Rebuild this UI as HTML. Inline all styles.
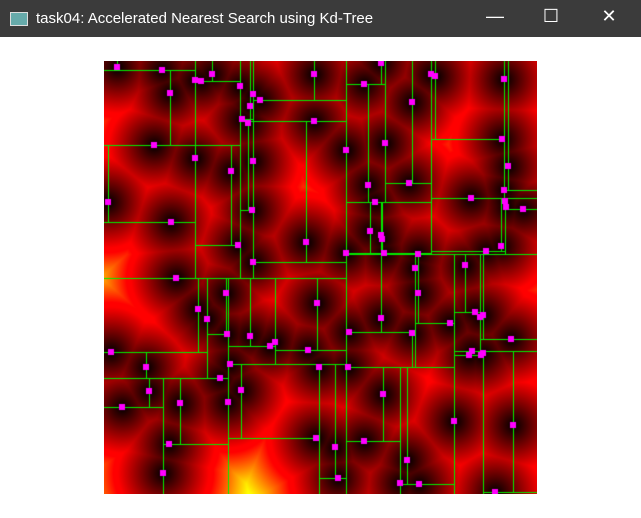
<!DOCTYPE html>
<html><head><meta charset="utf-8"><style>
body{margin:0;width:641px;height:518px;background:#fff;position:relative;overflow:hidden;font-family:"Liberation Sans",sans-serif}
#bar{position:absolute;left:0;top:0;width:641px;height:37px;background:#3b3b3b;color:#fff}
#title{position:absolute;left:36px;top:10px;font-size:15px}
#icon{position:absolute;left:10px;top:12px;width:16px;height:12px;border:1px solid #ddd;background:#6aa}
.btn{position:absolute;top:6px;color:#fff;font-size:18px;width:30px;text-align:center}
#cv{position:absolute;left:104px;top:61px}
</style></head><body>
<div id="bar">
<div id="icon"></div>
<div id="title">task04: Accelerated Nearest Search using Kd-Tree</div>
<div class="btn" style="left:480px">—</div>
<div class="btn" style="left:536px">☐</div>
<div class="btn" style="left:594px">✕</div>
</div>
<canvas id="cv" width="433" height="433"></canvas>
<script>
const pointsX=[117,162,212,195,201,314,170,240,253,260,250,242,248,314,154,195,253,231,108,252,171,238,306,253,176,381,431,435,504,364,412,346,385,502,508,368,409,504,471,375,505,506,523,370,381,382,501,346,384,418,486,415,465,226,317,198,207,111,227,250,275,270,308,146,230,319,220,149,241,122,180,228,169,316,163,418,381,475,480,483,349,412,450,511,472,469,481,483,348,383,454,513,364,335,407,338,400,419,495];
const pointsY=[67,70,74,80,81,74,93,86,94,100,106,119,123,121,145,158,161,171,202,210,222,245,242,262,278,63,74,76,79,84,102,150,143,139,166,185,183,190,198,202,201,207,209,231,235,239,246,253,253,254,251,268,265,293,303,309,319,352,334,336,342,346,350,367,364,367,378,391,390,407,403,402,444,438,473,293,318,312,317,315,332,333,323,339,351,355,355,353,367,394,421,425,441,447,460,478,483,484,492];
const OX=104,OY=61,S=433;
const cv=document.getElementById('cv'),ctx=cv.getContext('2d');
const img=ctx.createImageData(S,S);
for(let y=0;y<S;y++)for(let x=0;x<S;x++){
 let m=1e9;for(let i=0;i<pointsX.length;i++){const dx=pointsX[i]-OX-x,dy=pointsY[i]-OY-y;const d=dx*dx+dy*dy;if(d<m)m=d;}
 const d=Math.sqrt(m);const k=(y*S+x)*4;
 img.data[k]=Math.min(255,d*5.6);img.data[k+1]=Math.max(0,Math.min(255,(d-50)*7));img.data[k+2]=0;img.data[k+3]=255;}
ctx.putImageData(img,0,0);
ctx.strokeStyle='#00ee00';ctx.lineWidth=1;
const pts=pointsX.map((x,i)=>[x-OX,pointsY[i]-OY]);
function build(p,x0,y0,x1,y1,ax){
 if(!p.length)return;
 p.sort((a,b)=>a[ax]-b[ax]);const m=Math.floor(p.length/2),c=p[m];
 ctx.beginPath();
 if(ax===0){ctx.moveTo(c[0]+.5,y0);ctx.lineTo(c[0]+.5,y1);}else{ctx.moveTo(x0,c[1]+.5);ctx.lineTo(x1,c[1]+.5);}
 ctx.stroke();
 const L=p.slice(0,m),R=p.slice(m+1);
 if(ax===0){build(L,x0,y0,c[0],y1,1);build(R,c[0],y0,x1,y1,1);}
 else{build(L,x0,y0,x1,c[1],0);build(R,x0,c[1],x1,y1,0);}
}
build(pts.slice(),0,0,S,S,0);
ctx.fillStyle='#ff00ff';
for(const p of pts)ctx.fillRect(p[0]-3,p[1]-3,6,6);
</script>
</body></html>
